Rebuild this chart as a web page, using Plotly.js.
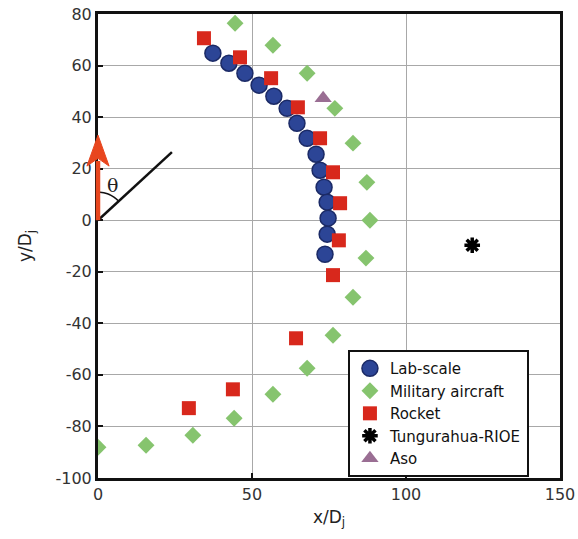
<!DOCTYPE html>
<html>
<head>
<meta charset="utf-8">
<script src="https://cdn.plot.ly/plotly-3.0.1.min.js"></script>
<style>html,body{margin:0;padding:0;background:#fff;}#chart{width:578px;height:539px;}</style>
</head>
<body>
<div id="chart"></div>
<script>
// Lab-scale
const labX = [37.3, 42.5, 47.7, 52.3, 57.1, 61.4, 64.6, 67.9, 70.8, 72.1, 73.4, 74.4, 74.7, 74.4, 73.7];
const labY = [64.8, 60.9, 57.0, 52.4, 48.1, 43.4, 37.6, 31.8, 25.6, 19.4, 12.8, 7.0, 0.8, -5.4, -13.2];
// Military aircraft
const milX = [44.5, 56.8, 67.9, 76.9, 82.8, 87.3, 88.3, 87.0, 82.8, 76.3, 67.9, 56.8, 44.2, 30.8, 15.6, 0];
const milY = [76.4, 67.9, 57.0, 43.4, 29.9, 14.7, 0, -14.7, -29.9, -44.6, -57.4, -67.5, -76.8, -83.4, -87.3, -88.1];
// Rocket
const rocX = [34.4, 46.1, 56.2, 64.9, 72.1, 76.3, 78.6, 78.2, 76.3, 64.3, 43.8, 29.5];
const rocY = [70.6, 63.2, 55.1, 43.8, 31.8, 18.6, 6.6, -7.8, -21.3, -45.8, -65.6, -72.9];
// Tungurahua-RIOE
const tunX = [121.5];
const tunY = [-9.7];
// Aso
const asoX = [73.1];
const asoY = [47.3];

const xTicks = [0, 50, 100, 150];
const yTicks = [-100, -80, -60, -40, -20, 0, 20, 40, 60, 80];

// theta arc (decoration) from vertical to the inclined line
const arcPts = [];
const a0 = Math.PI / 2, a1 = 42.6 * Math.PI / 180;
for (let i = 0; i <= 12; i++) {
  const a = a0 + (a1 - a0) * i / 12;
  arcPts.push([9.1 * Math.cos(a), 10.9 * Math.sin(a)]);
}
const arcPath = 'M ' + arcPts.map(p => p[0].toFixed(3) + ',' + p[1].toFixed(3)).join(' L ');

const FONT = 'DejaVu Sans, Arial, sans-serif';

const traces = [
  {x: labX, y: labY, name: 'Lab-scale', mode: 'markers', type: 'scatter',
   marker: {symbol: 'circle', size: 16, color: '#2c4596', line: {color: '#1b2a66', width: 1.5}}},
  {x: milX, y: milY, name: 'Military aircraft', mode: 'markers', type: 'scatter',
   marker: {symbol: 'diamond', size: 13, color: '#86c46e', line: {color: '#86c46e', width: 0}}},
  {x: rocX, y: rocY, name: 'Rocket', mode: 'markers', type: 'scatter',
   marker: {symbol: 'square', size: 14, color: '#d8281c', line: {color: '#c0201a', width: 0}}},
  {x: tunX, y: tunY, name: 'Tungurahua-RIOE', mode: 'markers', type: 'scatter',
   marker: {symbol: 'asterisk', size: 13, color: '#000', line: {color: '#000', width: 3.5}}},
  {x: asoX, y: asoY, name: 'Aso', mode: 'markers', type: 'scatter',
   marker: {symbol: 'triangle-up', size: 15, color: '#9a6e93', line: {width: 0}}}
];

const axisFont = {family: FONT, size: 16, color: '#333'};

const layout = {
  width: 578, height: 539,
  margin: {l: 98, r: 18, t: 14, b: 61},
  paper_bgcolor: '#fff', plot_bgcolor: '#fff',
  showlegend: true,
  legend: {x: 0.541, y: 0.002, xanchor: 'left', yanchor: 'bottom',
    bgcolor: '#fff', bordercolor: '#111', borderwidth: 2,
    font: {family: FONT, size: 15, color: '#111'},
    tracegroupgap: 0, itemwidth: 30},
  xaxis: {range: [0, 150], tickvals: xTicks, ticktext: xTicks.map(String),
    showgrid: true, gridcolor: '#a8a8a8', gridwidth: 1,
    showline: true, linecolor: '#111', linewidth: 3, mirror: true,
    ticks: 'inside', ticklen: 5, tickwidth: 2, tickcolor: '#111',
    zeroline: false, tickfont: axisFont,
    title: {text: 'x/D<sub>j</sub>', font: {family: FONT, size: 17, color: '#222'}, standoff: 8}},
  yaxis: {range: [-100, 80], tickvals: yTicks, ticktext: yTicks.map(String),
    showgrid: true, gridcolor: '#a8a8a8', gridwidth: 1,
    showline: true, linecolor: '#111', linewidth: 3, mirror: true,
    ticks: 'inside', ticklen: 5, tickwidth: 2, tickcolor: '#111',
    zeroline: false, tickfont: axisFont,
    title: {text: 'y/D<sub>j</sub>', font: {family: FONT, size: 17, color: '#222'}, standoff: 20}},
  shapes: [
    {type: 'line', xref: 'x', yref: 'y', x0: 0, y0: 0, x1: 24, y1: 26.4,
     line: {color: '#111', width: 2.5}},
    {type: 'path', xref: 'x', yref: 'y', path: arcPath, line: {color: '#111', width: 1.5}},
    // red arrow shaft and head
    {type: 'line', xref: 'paper', yref: 'y', x0: 0, y0: 0, x1: 0, y1: 23,
     line: {color: '#e8461e', width: 4.5}},
    {type: 'path', xref: 'paper', yref: 'y',
     path: 'M -0.024,21 L 0,33 L 0.024,21 L 0,24 Z',
     fillcolor: '#e8461e', line: {color: '#e8461e', width: 1}}
  ],
  annotations: [
    {x: 4.6, y: 13.8, xref: 'x', yref: 'y', text: 'θ', showarrow: false,
     font: {family: 'DejaVu Serif, Liberation Serif, serif', size: 19, color: '#222'}}
  ]
};

Plotly.newPlot('chart', traces, layout, {displayModeBar: false, staticPlot: true});
</script>
</body>
</html>
